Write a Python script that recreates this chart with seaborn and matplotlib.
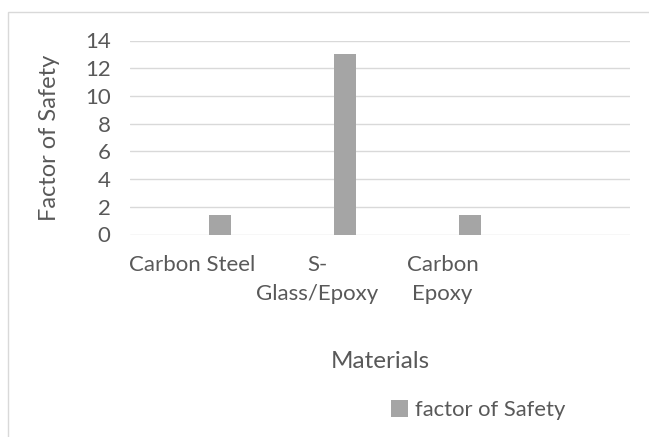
import matplotlib
matplotlib.use("Agg")
import matplotlib.pyplot as plt
import seaborn as sns
import pandas as pd
from matplotlib.patches import Rectangle

materials = ["Carbon Steel", "S-\nGlass/Epoxy", "Carbon\nEpoxy", ""]
factor_of_safety = [1.4, 13.0, 1.4, 0.0]
series_name = "factor of Safety"
y_ticks = [0, 2, 4, 6, 8, 10, 12, 14]

bar_color = "#A5A5A5"
grid_color = "#D9D9D9"
text_color = "#595959"

sns.set_theme(style="white")
plt.rcParams["font.family"] = ["Lato", "DejaVu Sans"]

df = pd.DataFrame({"Material": materials, "FoS": factor_of_safety})

fig = plt.figure(figsize=(6.49, 4.37), dpi=100)
ax = fig.add_axes([130 / 649, 1 - 234.5 / 437, 500 / 649, 194 / 437])

sns.barplot(data=df, x="Material", y="FoS", color=bar_color, width=0.176,
            saturation=1, ax=ax, order=materials, label=series_name)
# shift bars right within each category slot
for p in ax.patches:
    p.set_x(p.get_x() + 0.22)
    p.set_edgecolor("none")

ax.set_xlim(-0.5, 3.5)
ax.set_ylim(0, 14)
ax.set_yticks(y_ticks)
ax.set_yticklabels([str(t) for t in y_ticks], fontsize=16, color=text_color)
for t in y_ticks:
    ax.axhline(t, color=grid_color, lw=1.0, zorder=0)
ax.tick_params(axis="both", length=0, pad=14)
ax.tick_params(axis="x", pad=15)
for lbl in ax.get_xticklabels():
    lbl.set_fontsize(16)
    lbl.set_color(text_color)
    lbl.set_linespacing(1.55)
for s in ax.spines.values():
    s.set_visible(False)

ax.set_xlabel("Materials", fontsize=17.5, color=text_color, labelpad=34)
ax.set_ylabel("Factor of Safety", fontsize=17, color=text_color, labelpad=18)

leg = ax.legend(loc="center", bbox_to_anchor=(478 / 649, 1 - 410 / 437),
                bbox_transform=fig.transFigure, frameon=False, fontsize=15.8,
                handlelength=0.8, handleheight=0.8, handletextpad=0.3)
for t in leg.get_texts():
    t.set_color(text_color)

# chart area border
fig.patches.append(Rectangle((8 / 649, -0.1), 1.2, (1 - 12 / 437) + 0.1,
                             transform=fig.transFigure, fill=False,
                             edgecolor=grid_color, lw=1.0))

fig.savefig("out.png", dpi=100)
